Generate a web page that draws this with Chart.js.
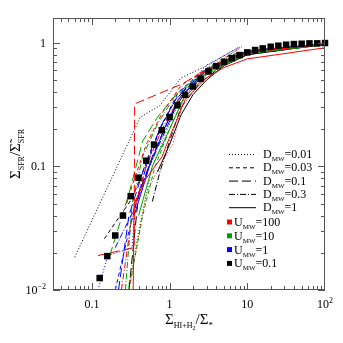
<!DOCTYPE html>
<html>
<head>
<meta charset="utf-8">
<script src="https://cdn.jsdelivr.net/npm/chart.js@4.4.0/dist/chart.umd.min.js"></script>
<style>
  html, body { margin: 0; padding: 0; background: #fff; }
</style>
</head>
<body>
<canvas id="chart" width="343" height="343"></canvas>
<script>
// ---- data ----
const dLabels = ["0.01", "0.03", "0.1", "0.3", "1"];
const uLabels = ["100", "10", "1", "0.1"];
const xTickLabels = ["0.1", "1", "10", "10|2"];
const yTickLabels = ["10|−2", "0.1", "1"];
const xTickValues = [0.1, 1, 10, 100];
const yTickValues = [0.01, 0.1, 1];

// reference model (black squares)
const sqX = [0.126, 0.158, 0.2, 0.251, 0.316, 0.398, 0.501, 0.631, 0.794, 1, 1.26, 1.58, 2, 2.51, 3.16,
             3.98, 5.01, 6.31, 7.94, 10, 12.6, 15.8, 20, 25.1, 31.6, 39.8, 50.1, 63.1, 79.4, 100];
const sqY = [0.0125, 0.0188, 0.0276, 0.040, 0.0574, 0.081, 0.111, 0.150, 0.196, 0.250, 0.312, 0.379, 0.443, 0.511, 0.586,
             0.647, 0.701, 0.751, 0.794, 0.835, 0.873, 0.900, 0.928, 0.946, 0.963, 0.975, 0.981, 0.988, 0.988, 0.994];

// U_MW = 100 (red)
const u100_d001 = [[0.3, 0.01], [0.5, 0.06], [0.8, 0.11], [1.1, 0.15], [1.5, 0.35], [3, 0.6], [9, 0.95]];
const u100_d003 = [[0.28, 0.05], [0.33, 0.07], [0.5, 0.15], [0.8, 0.27], [1.4, 0.45], [3, 0.62], [10, 0.86], [100, 0.97]];
const u100_d01  = [[0.12, 0.019], [0.35, 0.022], [0.355, 0.32], [1.4, 0.46], [3, 0.6], [10, 0.84], [100, 0.97]];
const u100_d03  = [[0.24, 0.01], [0.33, 0.04], [0.5, 0.1], [0.8, 0.2], [1.3, 0.35], [3, 0.58], [10, 0.83], [100, 0.97]];
const u100_d1   = [[0.34, 0.01], [0.35, 0.05], [0.5, 0.08], [0.8, 0.12], [1.1, 0.2], [1.6, 0.35], [3, 0.52], [5, 0.63], [10, 0.74], [100, 0.91]];

// U_MW = 10 (green)
const u10_d001 = [[0.29, 0.01], [0.4, 0.03], [0.6, 0.1], [1, 0.22], [1.5, 0.4], [3, 0.62], [8, 0.9]];
const u10_d003 = [[0.3, 0.01], [0.45, 0.04], [0.65, 0.1], [1, 0.2], [1.6, 0.38], [3, 0.57], [10, 0.82], [100, 0.96]];
const u10_d01  = [[0.17, 0.019], [0.3, 0.06], [0.45, 0.16], [0.7, 0.25], [1.2, 0.38], [3, 0.6], [10, 0.84], [100, 0.97]];
const u10_d03  = [[0.27, 0.01], [0.33, 0.05], [0.45, 0.12], [0.7, 0.22], [1.2, 0.38], [3, 0.59], [10, 0.83], [100, 0.97]];
const u10_d1   = [[0.4, 0.04], [0.6, 0.1], [1, 0.2], [1.5, 0.35], [3, 0.55], [10, 0.82], [100, 0.96]];

// U_MW = 1 (blue)
const u1_d001 = [[0.12, 0.01], [0.16, 0.019], [0.33, 0.022], [0.36, 0.05], [0.6, 0.12], [1, 0.23], [1.5, 0.42], [3, 0.66], [8, 0.92]];
const u1_d003 = [[0.2, 0.01], [0.3, 0.03], [0.5, 0.1], [0.8, 0.22], [1.3, 0.4], [3, 0.62], [10, 0.86], [100, 0.98]];
const u1_d01  = [[0.22, 0.01], [0.3, 0.04], [0.5, 0.11], [0.8, 0.22], [1.3, 0.38], [3, 0.6], [10, 0.85], [100, 0.97]];
const u1_d03  = [[0.2, 0.022], [0.35, 0.045], [0.55, 0.1], [0.9, 0.2], [1.4, 0.37], [3, 0.62], [10, 0.86], [100, 0.98]];
const u1_d1   = [[0.35, 0.04], [0.55, 0.1], [0.85, 0.2], [1.3, 0.35], [3, 0.6], [10, 0.85], [100, 0.98]];

// U_MW = 0.1 (black)
const u01_d001 = [[0.06, 0.0184], [0.42, 0.25], [0.75, 0.31], [1.4, 0.52], [3, 0.65], [8, 0.93]];
const u01_d003 = [[0.145, 0.026], [0.2, 0.035], [0.33, 0.055], [0.75, 0.2], [1.2, 0.35], [2.5, 0.55], [6, 0.8], [100, 0.98]];
const u01_d01  = [[0.3, 0.01], [0.4, 0.06], [0.6, 0.12], [1, 0.25], [1.6, 0.4], [3, 0.57], [10, 0.83], [100, 0.97]];
const u01_d03  = [[0.6, 0.052], [0.75, 0.09], [1, 0.16], [1.4, 0.3], [2.5, 0.48], [5, 0.66], [10, 0.8], [100, 0.97]];
const u01_d1   = [[0.7, 0.09], [1, 0.15], [1.4, 0.26], [2, 0.38], [3, 0.5], [5, 0.65], [10, 0.8], [100, 0.97]];

// ---- styles ----
const uColors = ["#ff0000", "#00a000", "#0000ff", "#000000"];
const dDashes = [[1, 2], [4, 3], [9, 4], [6, 2, 1, 2], []];
const lineSets = [
  [u100_d001, u100_d003, u100_d01, u100_d03, u100_d1],
  [u10_d001, u10_d003, u10_d01, u10_d03, u10_d1],
  [u1_d001, u1_d003, u1_d01, u1_d03, u1_d1],
  [u01_d001, u01_d003, u01_d01, u01_d03, u01_d1]
];

const SERIF = "'Liberation Serif', 'DejaVu Serif', serif";
const FRAME = "#555";

const datasets = [];
lineSets.forEach((set, ui) => {
  set.forEach((pts, di) => {
    datasets.push({
      data: pts.map(p => ({ x: p[0], y: p[1] })),
      borderColor: uColors[ui],
      borderDash: dDashes[di],
      borderWidth: 1,
      pointRadius: 0,
      fill: false,
      tension: 0,
      order: 1
    });
  });
});
datasets.push({
  data: sqX.map((x, i) => ({ x: x, y: sqY[i] })),
  showLine: false,
  pointStyle: "rect",
  pointRadius: 4.6,
  pointBackgroundColor: "#000",
  pointBorderWidth: 0,
  clip: false,
  order: 0
});

// draw text pieces [text, size, dy] side by side
function richText(ctx, parts, x, y, align) {
  let w = 0;
  parts.forEach(p => { ctx.font = p[1] + "px " + SERIF; w += ctx.measureText(p[0]).width; });
  let cx = align === "center" ? x - w / 2 : align === "right" ? x - w : x;
  ctx.textBaseline = "alphabetic";
  ctx.textAlign = "left";
  parts.forEach(p => {
    ctx.font = p[1] + "px " + SERIF;
    ctx.fillText(p[0], cx, y + (p[2] || 0));
    cx += ctx.measureText(p[0]).width;
  });
}

function tickParts(label) {
  const s = label.split("|");
  return s.length > 1 ? [[s[0], 12, 0], [s[1], 8, -5]] : [[s[0], 12, 0]];
}

const framePlugin = {
  id: "frame",
  afterDraw(chart) {
    const ctx = chart.ctx;
    const a = chart.chartArea;
    const xs = chart.scales.x, ys = chart.scales.y;
    ctx.save();
    ctx.strokeStyle = FRAME;
    ctx.lineWidth = 1;
    ctx.strokeRect(a.left + 0.5, a.top + 0.5, a.right - a.left - 1, a.bottom - a.top - 1);

    // inward ticks
    ctx.beginPath();
    [0.01, 0.1, 1, 10].forEach(d => {
      for (let m = 1; m <= 9; m++) {
        const v = m * d;
        if (v < xs.min || v > xs.max) continue;
        const px = Math.round(xs.getPixelForValue(v)) + 0.5;
        const len = m === 1 ? 7 : 4;
        ctx.moveTo(px, a.bottom); ctx.lineTo(px, a.bottom - len);
        ctx.moveTo(px, a.top); ctx.lineTo(px, a.top + len);
      }
    });
    [0.01, 0.1, 1].forEach(d => {
      for (let m = 1; m <= 9; m++) {
        const v = m * d;
        if (v < ys.min || v > ys.max) continue;
        const py = Math.round(ys.getPixelForValue(v)) + 0.5;
        const len = m === 1 ? 7 : 4;
        ctx.moveTo(a.left, py); ctx.lineTo(a.left + len, py);
        ctx.moveTo(a.right, py); ctx.lineTo(a.right - len, py);
      }
    });
    ctx.stroke();

    // tick labels
    ctx.fillStyle = "#000";
    xTickValues.forEach((v, i) => {
      richText(ctx, tickParts(xTickLabels[i]), xs.getPixelForValue(v), a.bottom + 18, "center");
    });
    yTickValues.forEach((v, i) => {
      richText(ctx, tickParts(yTickLabels[i]), a.left - 7, ys.getPixelForValue(v) + 4, "right");
    });

    // axis titles
    richText(ctx, [["Σ", 15, 0], ["HI+H", 8, 4], ["2", 6, 6], ["/", 15, 0], ["Σ", 15, 0], ["*", 9, 4]],
             (a.left + a.right) / 2, 324, "center");
    ctx.save();
    ctx.translate(20, (a.top + a.bottom) / 2);
    ctx.rotate(-Math.PI / 2);
    richText(ctx, [["Σ", 15, 0], ["SFR", 8, 4], ["/", 15, 0], ["Σ\u0303", 15, 0], ["SFR", 8, 4]], 0, 0, "center");
    ctx.restore();

    // legend
    const lx0 = 229, lx1 = 256;
    dLabels.forEach((lab, i) => {
      const y = 154 + i * 13.3;
      ctx.beginPath();
      ctx.setLineDash(dDashes[i]);
      ctx.strokeStyle = "#000";
      ctx.moveTo(lx0, y + 0.5); ctx.lineTo(lx1, y + 0.5);
      ctx.stroke();
      ctx.setLineDash([]);
      richText(ctx, [["D", 12, 0], ["MW", 7, 3], ["=" + lab, 12, 0]], 263, y + 4, "left");
    });
    uLabels.forEach((lab, i) => {
      const y = 222 + i * 13.8;
      ctx.fillStyle = uColors[i];
      ctx.fillRect(227, y - 2.5, 5, 5);
      ctx.fillStyle = "#000";
      richText(ctx, [["U", 12, 0], ["MW", 7, 3], ["=" + lab, 12, 0]], 234, y + 4, "left");
    });
    ctx.restore();
  }
};

new Chart(document.getElementById("chart"), {
  type: "line",
  data: { datasets: datasets },
  options: {
    responsive: false,
    animation: false,
    devicePixelRatio: 1,
    layout: { padding: { top: 18, right: 18, left: 0, bottom: 0 } },
    plugins: { legend: { display: false }, tooltip: { enabled: false } },
    scales: {
      x: {
        type: "logarithmic", min: 0.0316, max: 100,
        ticks: { display: false }, grid: { display: false }, border: { display: false },
        afterFit(s) { s.height = 53; }
      },
      y: {
        type: "logarithmic", min: 0.01, max: 1.585,
        ticks: { display: false }, grid: { display: false }, border: { display: false },
        afterFit(s) { s.width = 53; }
      }
    }
  },
  plugins: [framePlugin]
});
</script>
</body>
</html>
